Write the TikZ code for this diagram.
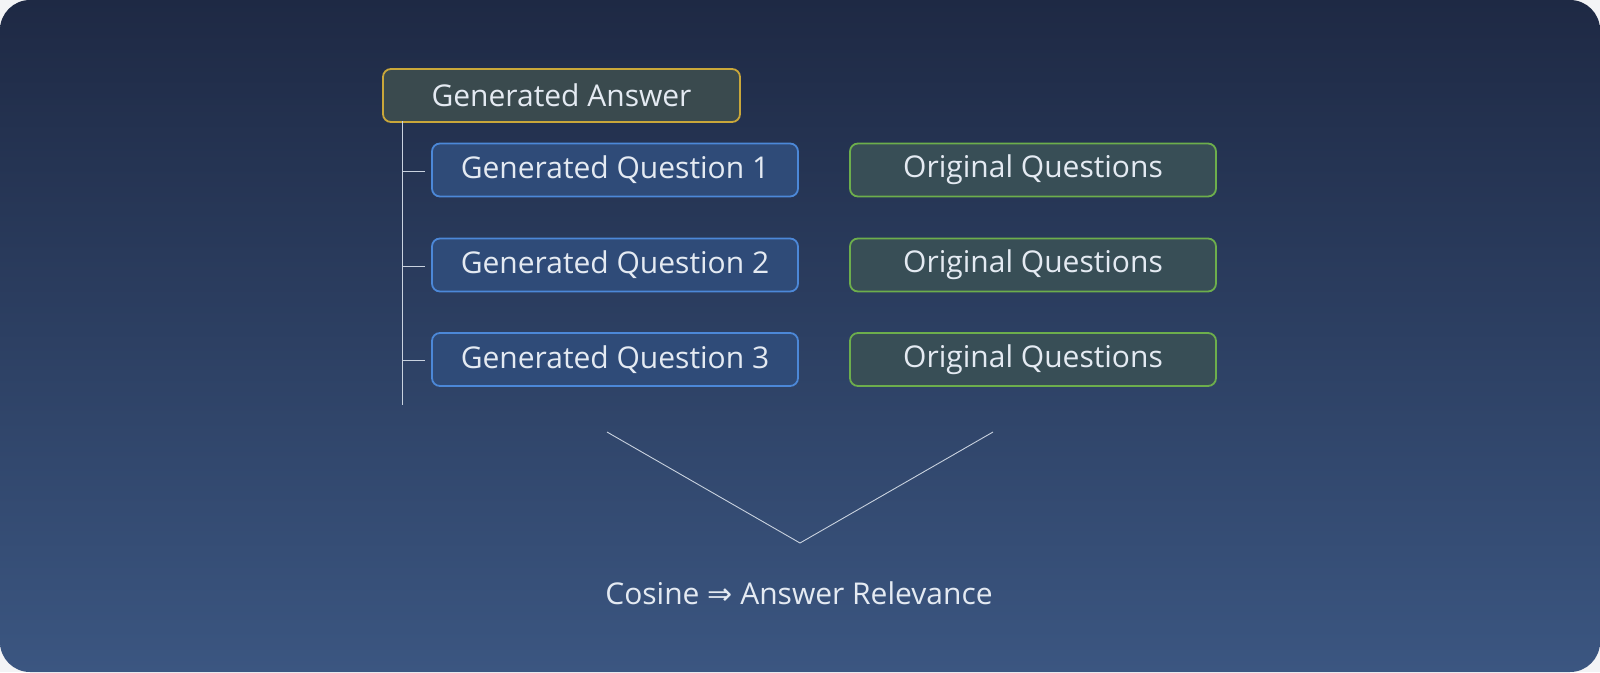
\documentclass[tikz,border=0pt]{standalone}
\usepackage{fontspec}
\setmainfont{Open Sans}
\newfontfamily\symfont{DejaVu Sans}
\definecolor{bgtop}{HTML}{1E2944}
\definecolor{bgbot}{HTML}{3B5681}
\definecolor{outer}{HTML}{F3F4F6}
\definecolor{txt}{HTML}{E4EAF2}
\definecolor{gafill}{HTML}{3A4A4E}
\definecolor{gadraw}{HTML}{C9A73A}
\definecolor{gqfill}{HTML}{2F4B78}
\definecolor{gqdraw}{HTML}{4C88D8}
\definecolor{oqfill}{HTML}{384E56}
\definecolor{oqdraw}{HTML}{6DAE4C}
\definecolor{linec}{HTML}{C9D2DF}
\begin{document}
\begin{tikzpicture}[x=1pt,y=-1pt,
  box/.style={rounded corners=8pt, line width=1.8pt, minimum height=53pt, text=txt,
    font=\fontsize{30}{36}\selectfont, inner sep=0pt},
  gabox/.style={box, fill=gafill, draw=gadraw, minimum width=357pt},
  gqbox/.style={box, fill=gqfill, draw=gqdraw, minimum width=366pt},
  oqbox/.style={box, fill=oqfill, draw=oqdraw, minimum width=366pt},
  conn/.style={draw=linec, line width=1pt}]
\fill[outer] (0,0) rectangle (1600,672);
\shade[top color=bgtop, bottom color=bgbot, rounded corners=30pt] (0,0) rectangle (1600,672);
\node[gabox] (ga) at (561.5,95.5) {Generated Answer};
\node[gqbox] (gq1) at (615,170) {Generated Question 1};
\node[gqbox] (gq2) at (615,265) {Generated Question 2};
\node[gqbox] (gq3) at (615,359.5) {Generated Question 3};
\node[oqbox] (oq1) at (1033,170) {Original Questions};
\node[oqbox] (oq2) at (1033,265) {Original Questions};
\node[oqbox] (oq3) at (1033,359.5) {Original Questions};
\coordinate (vtop) at (402.5,121);
\coordinate (vbot) at (402.5,405);
\draw[conn] (vtop) -- (vbot);
\foreach \q in {gq1,gq2,gq3}{
  \draw[conn] ([xshift=-6pt,yshift=-1pt]\q.west) -- ([yshift=-1pt]\q.west -| vtop);
}
\coordinate (vl) at (607,432);
\coordinate (vb) at (800,543);
\coordinate (vr) at (993,432);
\draw[conn, line width=0.9pt] (vl) -- (vb) -- (vr);
\node[text=txt, font=\fontsize{30}{36}\selectfont, anchor=base, inner sep=0pt] (res) at (799,604) {Cosine {\symfont ⇒} Answer Relevance};
\end{tikzpicture}
\end{document}
